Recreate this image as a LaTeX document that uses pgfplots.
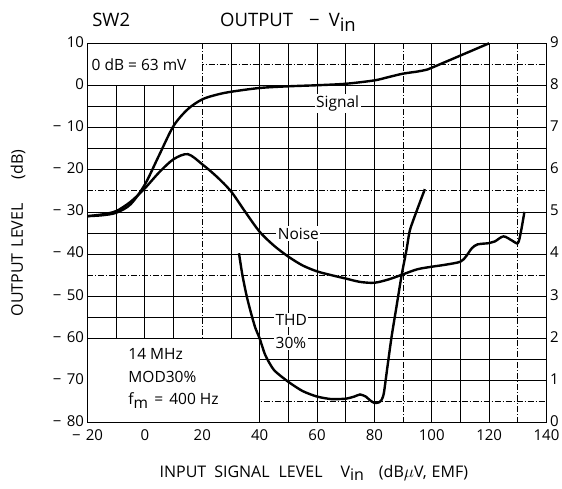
\documentclass[border=0pt]{standalone}
\usepackage{fontspec}
\setmainfont{Open Sans}
\usepackage{pgfplots}
\pgfplotsset{compat=1.18}
\begin{document}
\begin{tikzpicture}
\useasboundingbox (-87.5pt,-65.3pt) rectangle (474.5pt,422.7pt);
\begin{axis}[
  width=459pt, height=379.4pt, scale only axis,
  xmin=-20, xmax=140, ymin=-80, ymax=10,
  clip=false,
  axis line style={line width=1.4pt},
  xtick={-20,0,...,140},
  xticklabels={−\hspace{0.35em}20,0,20,40,60,80,100,120,140},
  ytick={-80,-70,...,10},
  yticklabels={−\hspace{0.35em}80,−\hspace{0.35em}70,−\hspace{0.35em}60,−\hspace{0.35em}50,−\hspace{0.35em}40,−\hspace{0.35em}30,−\hspace{0.35em}20,−\hspace{0.35em}10,0,10},
  xtick pos=bottom, ytick pos=left,
  major tick length=0pt, minor tick length=0pt,
  tick label style={font=\fontsize{15}{18}\selectfont},
  xticklabel style={yshift=-3pt},
  yticklabel style={yshift=1.5pt},
  minor xtick={-10,0,10,30,40,50,60,70,80,100,110,120},
  minor ytick={0,-5,-10,-15,-20,-30,-35,-40,-50,-55,-60,-65,-70},
  xminorgrids, yminorgrids,
  minor grid style={black, line width=0.75pt},
  extra x ticks={20,90,130},
  extra x tick labels={\phantom{0},\phantom{0},\phantom{0}},
  extra x tick style={xmajorgrids=true, major grid style={black, line width=0.75pt, dash pattern=on 6pt off 2pt on 1pt off 2pt}},
  extra y ticks={5,-25,-45,-75},
  extra y tick labels={\phantom{0},\phantom{0},\phantom{0},\phantom{0}},
  extra y tick style={ymajorgrids=true, major grid style={black, line width=0.75pt, dash pattern=on 6pt off 2pt on 1pt off 2pt}},
]
% white boxes
\fill[white] ([xshift=0.8pt,yshift=0.5pt]axis cs:-20,0) rectangle ([xshift=-0.5pt,yshift=-0.8pt]axis cs:20,10);
\fill[white] ([xshift=0.8pt,yshift=0.8pt]axis cs:-20,-80) rectangle ([xshift=-0.5pt,yshift=-0.5pt]axis cs:40,-60);

% Signal
\addplot[black, line width=2.4pt, smooth, tension=0.5] coordinates {
(-20,-31) (-15,-30.8) (-10,-30.2) (-5,-28.2) (0,-23.5) (5,-16.5) (10,-9.6) (15,-5.6) (20,-3.3) (25,-2.2) (30,-1.5) (40,-0.6) (50,-0.2) (60,0.05) (70,0.4) (80,1.2) (85,2) (90,2.8) (95,3.3) (98,3.7) (100,4.2) (110,7.1) (120,10)
};
% Noise
\addplot[black, line width=2.4pt, smooth, tension=0.5] coordinates {
(-20,-31) (-15,-30.6) (-10,-29.8) (-5,-27.6) (0,-24.4) (5,-20.6) (10,-17.5) (15,-16.3) (20,-18.7) (25,-21.6) (30,-25.1) (35,-30) (40,-34.7) (45,-38) (50,-40.6) (55,-42.7) (60,-44.1) (65,-45) (70,-45.8) (75,-46.6) (80,-46.8) (85,-46) (90,-44.8) (95,-43.6) (100,-43) (105,-42.5) (110,-41.8) (112,-40.5) (114,-38.6) (116,-37.7) (120,-37.4) (122,-37) (125,-35.8) (128,-36.8) (130,-37.4) (131,-35) (132.3,-30)
};
% THD
\addplot[black, line width=2.4pt, smooth, tension=0.4] coordinates {
(32.8,-39.8) (34,-45) (35.5,-50) (37,-54) (38.5,-57.5) (40,-60) (42,-64) (45,-67.5) (50,-70.3) (55,-72.5) (60,-73.8) (65,-74.4) (70,-74.3) (73,-73.8) (75,-73.3) (77,-73.8) (78.5,-74.7) (80,-75.3) (81.5,-75.2) (82.5,-74.6) (83.3,-73) (84.5,-67) (86,-59.6) (87.7,-52.5) (89.5,-45) (91.2,-39) (92.4,-34.3) (95,-29.3) (97.6,-24.6)
};

% labels in plot
\node[anchor=west, inner sep=0pt, font=\fontsize{15.5}{18}\selectfont] at (axis cs:-18.6,5) {0 dB = 63 mV};
\node[fill=white, inner sep=1.5pt, font=\fontsize{15.5}{18}\selectfont] at (axis cs:67.2,-4.3) {Signal};
\node[fill=white, inner sep=1.5pt, font=\fontsize{15.5}{18}\selectfont] at (axis cs:53.5,-35.1) {Noise};
\node[fill=white, anchor=west, inner sep=1.5pt, font=\fontsize{15.5}{18}\selectfont] at (axis cs:45,-55.6) {THD};
\node[fill=white, anchor=west, inner sep=1.5pt, font=\fontsize{15.5}{18}\selectfont] at (axis cs:45,-61) {30\%};
\node[anchor=west, inner sep=0pt, font=\fontsize{15.5}{18}\selectfont] at (axis cs:-5.8,-63.7) {14 MHz};
\node[anchor=west, inner sep=0pt, font=\fontsize{15.5}{18}\selectfont] at (axis cs:-5.8,-69.1) {MOD30\%};
\node[anchor=west, inner sep=0pt, font=\fontsize{15.5}{18}\selectfont] at (axis cs:-5.8,-74.8) {f\raisebox{-0.45ex}{m}\hspace{0.4em}=\hspace{0.4em}400 Hz};

% titles
\node[anchor=base west, inner sep=0pt, font=\fontsize{18.5}{22}\selectfont] at (axis cs:-18.4,13.9) {SW2};
\node[anchor=base west, inner sep=0pt, font=\fontsize{18.5}{22}\selectfont] at (axis cs:26.2,13.9) {OUTPUT\hspace{16pt}−\hspace{9pt}V\raisebox{-0.45ex}{in}};

% axis labels
\node[rotate=90, inner sep=0pt, font=\fontsize{16}{18}\selectfont] at ([xshift=-69.5pt]axis cs:-20,-35) {OUTPUT\hspace{6pt}LEVEL\hspace{24pt}(dB)};
\node[inner sep=0pt, font=\fontsize{16}{18}\selectfont] at (axis cs:58.9,-91.9) {INPUT\hspace{8pt}SIGNAL\hspace{9pt}LEVEL\hspace{18pt}V\raisebox{-0.45ex}{in}\hspace{15pt}(dB$\mu$V,\hspace{5pt}EMF)};
\end{axis}
\begin{axis}[
  width=459pt, height=379.4pt, scale only axis,
  xmin=-20, xmax=140, ymin=0, ymax=9,
  hide x axis,
  axis y line*=right,
  y axis line style={line width=1.4pt},
  ytick={0,1,...,9},
  yticklabels={0,1,2,3,4,5,6,7,8,9},
  major tick length=0pt,
  tick label style={font=\fontsize{15}{18}\selectfont},
  yticklabel style={yshift=1.5pt},
]
\end{axis}
\end{tikzpicture}
\end{document}
